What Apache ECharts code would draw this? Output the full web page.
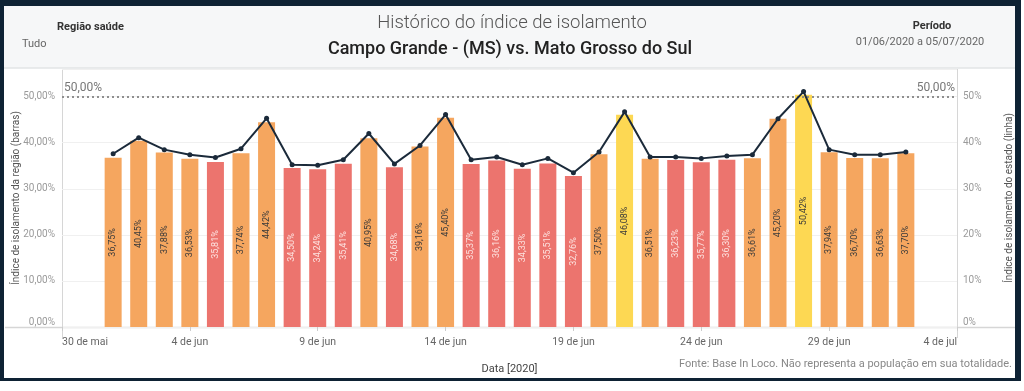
<!DOCTYPE html>
<html>
<head>
<meta charset="utf-8">
<script src="https://cdn.jsdelivr.net/npm/echarts@6/dist/echarts.min.js"></script>
<style>
html,body{margin:0;padding:0;background:#ffffff;}
#chart{width:1024px;height:391px;}
</style>
</head>
<body>
<div id="chart"></div>
<script>
// ---- data ----
const dates = ['2020-06-01','2020-06-02','2020-06-03','2020-06-04','2020-06-05','2020-06-06','2020-06-07','2020-06-08',
  '2020-06-09','2020-06-10','2020-06-11','2020-06-12','2020-06-13','2020-06-14','2020-06-15','2020-06-16',
  '2020-06-17','2020-06-18','2020-06-19','2020-06-20','2020-06-21','2020-06-22','2020-06-23','2020-06-24',
  '2020-06-25','2020-06-26','2020-06-27','2020-06-28','2020-06-29','2020-06-30','2020-07-01','2020-07-02'];
const regionValues = [36.75, 40.45, 37.88, 36.53, 35.81, 37.74, 44.42, 34.50, 34.24, 35.41, 40.95, 34.68, 39.16, 45.40, 35.37, 36.16,
  34.33, 35.51, 32.76, 37.50, 46.08, 36.51, 36.23, 35.77, 36.30, 36.61, 45.20, 50.42, 37.94, 36.70, 36.63, 37.70];
const stateValues = [37.6, 41.1, 38.5, 37.4, 36.8, 38.7, 45.3, 35.2, 35.1, 36.3, 42.0, 35.4, 39.4, 46.1, 36.3, 36.9,
  35.2, 36.6, 33.5, 38.0, 46.7, 36.9, 36.9, 36.6, 37.1, 37.4, 45.2, 51.1, 38.5, 37.4, 37.4, 38.0];
const axisStart = '2020-05-30';
const tickLabels = ['30 de mai','4 de jun','9 de jun','14 de jun','19 de jun','24 de jun','29 de jun','4 de jul'];
const referenceValue = 50;

// ---- helpers ----
const DAY = 86400000;
const dayIndex = s => Math.round((Date.parse(s) - Date.parse(axisStart)) / DAY);
const fmt = v => v.toFixed(2).replace('.', ',') + '%';
const COLORS = { red: '#ec746e', orange: '#f5a65f', yellow: '#fdd853' };
function colorFor(v){ if (v >= 46) return 'yellow'; if (v < 36.4) return 'red'; return 'orange'; }

const barData = dates.map((d,i) => {
  const c = colorFor(regionValues[i]);
  return {
    value: [dayIndex(d), regionValues[i]],
    itemStyle: { color: COLORS[c] },
    label: { color: c === 'red' ? '#fde3e0' : '#3a3a3a' }
  };
});
const lineData = dates.map((d,i) => [dayIndex(d), stateValues[i]]);

const FONT = 'Roboto, "Noto Sans", sans-serif';
const chart = echarts.init(document.getElementById('chart'), null, {renderer:'canvas'});
chart.setOption({
  backgroundColor: '#ffffff',
  animation: false,
  textStyle: { fontFamily: FONT },
  graphic: [
    { type:'rect', z:-100, shape:{x:0,y:0,width:1021,height:381}, style:{fill:'#0e2234'} },
    { type:'rect', z:-99, shape:{x:4,y:6,width:1011,height:372}, style:{fill:'#ffffff'} },
    { type:'rect', z:-98, shape:{x:4,y:6,width:1011,height:62}, style:{fill:'#f6f7f8'} },
    { type:'line', z:-97, shape:{x1:4,y1:68,x2:1015,y2:68}, style:{stroke:'#e2e4e6', lineWidth:1.5} },
    { type:'line', z:-97, shape:{x1:5,y1:327.5,x2:1015,y2:327.5}, style:{stroke:'#d6d6d6', lineWidth:1.5} },
    { type:'line', z:-97, shape:{x1:62.5,y1:69,x2:62.5,y2:338}, style:{stroke:'#d6d6d6', lineWidth:1} },
    { type:'line', z:-97, shape:{x1:957.5,y1:69,x2:957.5,y2:338}, style:{stroke:'#d6d6d6', lineWidth:1} },
    { type:'text', z:10, style:{ text:'Região saúde', x:57, y:27, verticalAlign:'middle', font:'bold 11px '+FONT, fill:'#333' } },
    { type:'text', z:10, style:{ text:'Tudo', x:22, y:44, verticalAlign:'middle', font:'11px '+FONT, fill:'#666' } },
    { type:'text', z:10, style:{ text:'Histórico do índice de isolamento', x:512, y:23, align:'center', verticalAlign:'middle', font:'300 18.5px '+FONT, fill:'#555' } },
    { type:'text', z:10, style:{ text:'Campo Grande - (MS) vs. Mato Grosso do Sul', x:510, y:49, align:'center', verticalAlign:'middle', font:'500 18px '+FONT, fill:'#222' } },
    { type:'text', z:10, style:{ text:'Período', x:932, y:26, align:'center', verticalAlign:'middle', font:'bold 11px '+FONT, fill:'#333' } },
    { type:'text', z:10, style:{ text:'01/06/2020 a 05/07/2020', x:920, y:42, align:'center', verticalAlign:'middle', font:'11px '+FONT, fill:'#666' } },
    { type:'text', z:10, style:{ text:'Fonte: Base In Loco. Não representa a população em sua totalidade.', x:1012, y:364, align:'right', verticalAlign:'middle', font:'11px '+FONT, fill:'#888' } }
  ],
  grid: { left: 62, right: 67, top: 69, bottom: 64, containLabel: false },
  xAxis: {
    type: 'value', min: 0, max: 35, interval: 5,
    axisLine: { show: false },
    axisTick: { show: true, length: 4, lineStyle: { color: '#cccccc' } },
    splitLine: { show: false },
    axisLabel: {
      color: '#666', fontSize: 10.5, margin: 10,
      alignMinLabel: 'left', alignMaxLabel: 'right',
      formatter: v => tickLabels[Math.round(v / 5)] || ''
    },
    name: 'Data [2020]', nameLocation: 'middle', nameGap: 37, nameMoveOverlap: false,
    nameTextStyle: { color: '#444', fontSize: 11 }
  },
  yAxis: [
    {
      type: 'value', min: 0, max: 56, interval: 10,
      axisLine: { show: false }, axisTick: { show: false },
      splitLine: { lineStyle: { color: '#f0f0f0', width: 1 } },
      axisLabel: { color: '#9a9a9a', fontSize: 10, margin: 7, verticalAlignMinLabel: 'bottom',
        formatter: v => (v % 10 === 0 ? fmt(v) : '') },
      name: 'Índice de isolamento da região (barras)', nameLocation: 'middle', nameRotate: 90, nameGap: 41,
      nameMoveOverlap: false,
      nameTextStyle: { color: '#555', fontSize: 10 }
    },
    {
      type: 'value', min: 0, max: 56, interval: 10, position: 'right',
      axisLine: { show: false }, axisTick: { show: false },
      splitLine: { show: false },
      axisLabel: { color: '#9a9a9a', fontSize: 10, margin: 6, verticalAlignMinLabel: 'bottom',
        formatter: v => (v % 10 === 0 ? v + '%' : '') },
      name: 'Índice de isolamento do estado (linha)', nameLocation: 'middle', nameRotate: 90, nameGap: 47,
      nameMoveOverlap: false,
      nameTextStyle: { color: '#555', fontSize: 10 }
    }
  ],
  series: [
    {
      type: 'bar', yAxisIndex: 0, barWidth: 17, data: barData,
      label: { show: true, position: 'inside', rotate: 90, fontSize: 9, fontFamily: FONT,
        formatter: p => fmt(p.value[1]) },
      markLine: {
        silent: true, symbol: 'none',
        lineStyle: { type: [2, 3], color: '#888', width: 1.5 },
        data: [
          { yAxis: referenceValue, label: { position: 'insideStartTop', formatter: '50,00%', color: '#777', fontSize: 12, distance: [2, 3] } },
          { yAxis: referenceValue, label: { position: 'insideEndTop', formatter: '50,00%', color: '#777', fontSize: 12, distance: [2, 3] } }
        ]
      }
    },
    {
      type: 'line', yAxisIndex: 1, data: lineData,
      symbol: 'circle', symbolSize: 5,
      lineStyle: { color: '#1b2a3a', width: 2 },
      itemStyle: { color: '#1b2a3a' },
      z: 5
    }
  ]
});
</script>
</body>
</html>
